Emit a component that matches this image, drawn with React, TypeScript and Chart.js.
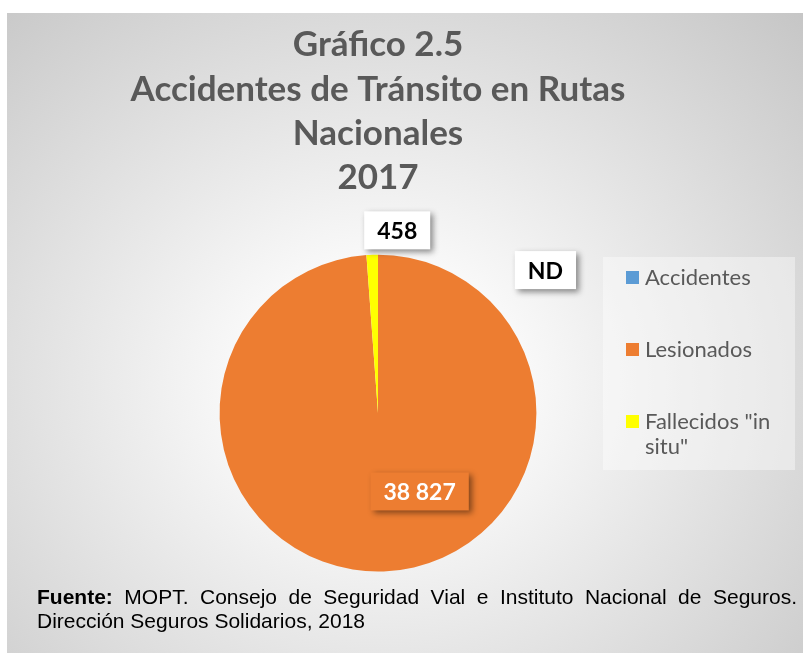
import React, { useEffect, useRef } from 'react';
import { Chart, registerables } from 'chart.js';

Chart.register(...registerables);

const categories = ['Accidentes', 'Lesionados', 'Fallecidos "in situ"'];
const values = [0, 38827, 458];
const valueLabels = ['ND', '38 827', '458'];
const colors = ['#5B9BD5', '#ED7D31', '#FFFF00'];
const titleLines = ['Gráfico 2.5', 'Accidentes de Tránsito en Rutas', 'Nacionales', '2017'];
const footerLines = [
  'MOPT. Consejo de Seguridad Vial e Instituto Nacional de Seguros.',
  'Dirección Seguros Solidarios, 2018',
];

// label placement: angle (deg, clockwise from 12 o'clock) and distance (fraction of radius)
const labelPlacement = [
  { angle: 49.5, dist: 1.39, fill: '#FFFFFF', color: '#000000' },
  { angle: 152, dist: 0.56, fill: '#ED7D31', color: '#FFFFFF' },
  { angle: 6, dist: 1.16, fill: '#FFFFFF', color: '#000000' },
];

const FONT = 'Lato, "Open Sans", sans-serif';

const labelPlugin = {
  id: 'valueLabels',
  afterDatasetsDraw(chart: any) {
    const ctx = chart.ctx;
    const meta = chart.getDatasetMeta(0);
    ctx.save();
    ctx.font = `bold 23px ${FONT}`;
    ctx.textAlign = 'center';
    ctx.textBaseline = 'middle';
    meta.data.forEach((arc: any, i: number) => {
      const p = labelPlacement[i];
      const r = arc.outerRadius;
      const a = (p.angle * Math.PI) / 180;
      const cx = arc.x + Math.sin(a) * r * p.dist;
      const cy = arc.y - Math.cos(a) * r * p.dist;
      const text = valueLabels[i];
      const tw = ctx.measureText(text).width;
      const w = tw + 26;
      const h = 38;
      ctx.save();
      ctx.shadowColor = 'rgba(0,0,0,0.45)';
      ctx.shadowBlur = 6;
      ctx.shadowOffsetX = 3;
      ctx.shadowOffsetY = 3;
      ctx.fillStyle = p.fill;
      ctx.fillRect(cx - w / 2, cy - h / 2, w, h);
      ctx.restore();
      ctx.fillStyle = p.color;
      ctx.fillText(text, cx, cy + 1);
    });
    ctx.restore();
  },
};

const legendPlugin = {
  id: 'customLegend',
  afterDraw(chart: any) {
    const ctx = chart.ctx;
    const boxX = 596;
    const boxY = 244;
    const boxW = 192;
    const boxH = 213;
    ctx.save();
    ctx.fillStyle = 'rgba(255,255,255,0.4)';
    ctx.fillRect(boxX, boxY, boxW, boxH);
    ctx.font = `22px ${FONT}`;
    ctx.textBaseline = 'middle';
    ctx.textAlign = 'left';
    const items = chart.data.labels as string[];
    const maxW = 140;
    items.forEach((label: string, i: number) => {
      const cy = boxY + 20.5 + i * 72;
      ctx.fillStyle = colors[i];
      ctx.fillRect(boxX + 23, cy - 6.5, 13, 13);
      ctx.fillStyle = '#595959';
      const words = label.split(' ');
      const lines: string[] = [];
      let cur = '';
      words.forEach((w) => {
        const test = cur ? cur + ' ' + w : w;
        if (ctx.measureText(test).width > maxW && cur) {
          lines.push(cur);
          cur = w;
        } else cur = test;
      });
      if (cur) lines.push(cur);
      lines.forEach((ln, j) => ctx.fillText(ln, boxX + 42, cy + j * 25));
    });
    ctx.restore();
  },
};

export default function App() {
  const ref = useRef<HTMLCanvasElement | null>(null);
  useEffect(() => {
    if (!ref.current) return;
    const chart = new Chart(ref.current, {
      type: 'pie',
      data: {
        labels: categories,
        datasets: [
          {
            data: values,
            backgroundColor: colors,
            borderWidth: 0,
            hoverOffset: 0,
          },
        ],
      },
      options: {
        responsive: false,
        animation: false,
        events: [],
        layout: { padding: { left: 90, right: 144, top: 0, bottom: 81.5 } },
        plugins: {
          legend: { display: false },
          tooltip: { enabled: false },
          title: {
            display: true,
            fullSize: false,
            text: titleLines,
            color: '#595959',
            font: { family: FONT, weight: 'bold', size: 35, lineHeight: 1.262 },
            padding: { top: 10, bottom: 55 },
          },
        },
      },
      plugins: [labelPlugin, legendPlugin],
    });
    return () => chart.destroy();
  }, []);

  return (
    <div
      style={{
        position: 'absolute',
        left: 7,
        top: 13,
        width: 796,
        height: 640,
        background:
          'radial-gradient(ellipse farthest-corner at 47% 58%, #ffffff 0%, #f8f8f8 25%, #c6c6c6 100%)',
      }}
    >
      <canvas ref={ref} width={796} height={640} style={{ display: 'block' }} />
      <div
        style={{
          position: 'absolute',
          left: 30,
          top: 572,
          width: 760,
          fontFamily: '"Liberation Sans Narrow", "Liberation Sans", Arial, sans-serif',
          fontSize: 21,
          lineHeight: '24px',
          color: '#000',
        }}
      >
        <div style={{ textAlign: 'justify', textAlignLast: 'justify' as any }}>
          <b>Fuente:</b> {footerLines[0]}
        </div>
        <div>{footerLines[1]}</div>
      </div>
    </div>
  );
}
